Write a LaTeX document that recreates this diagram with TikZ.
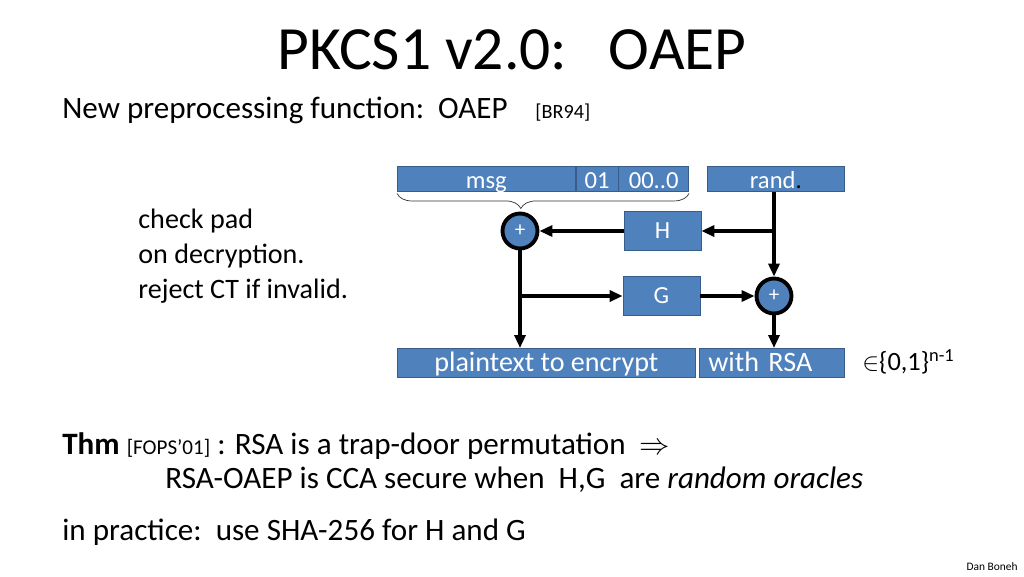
\documentclass[tikz,border=0pt]{standalone}
\usepackage{fontspec}
\setmainfont{Carlito}
\usetikzlibrary{positioning,decorations.pathreplacing,arrows.meta}
\definecolor{boxblue}{HTML}{4F81BD}
\definecolor{boxline}{HTML}{385D8A}

\begin{document}
\begin{tikzpicture}[
  x = 0.02cm, y = -0.02cm,
  field/.style  = {rectangle, draw=boxline, fill=boxblue, text=white, minimum height=0.5cm , inner sep=0pt, text height=0.38cm, text depth=0pt, font=\fontsize{14}{15}\selectfont},
  func/.style   = {rectangle, draw=boxline, fill=boxblue, text=white, minimum width=1.54cm, minimum height=0.78cm, inner sep=0pt, font=\fontsize{14}{15}\selectfont},
  xorop/.style  = {circle, draw=black, line width=2.2pt, fill=boxblue, text=white, minimum size=0.7cm, inner sep=0pt, font=\fontsize{12}{13}\selectfont},
  outbox/.style = {rectangle, draw=boxline, fill=boxblue, text=white, minimum height=0.58cm, inner sep=0pt, text height=0.34cm, text depth=0pt, font=\fontsize{16}{17}\selectfont},
  body/.style   = {anchor=base west, inner sep=0pt, font=\fontsize{17.7}{21}\selectfont},
  cite/.style   = {anchor=base west, inner sep=0pt, font=\fontsize{11.5}{12}\selectfont},
  wire/.style   = {line width=2pt},
  flow/.style   = {wire, -{Triangle[length=0.26cm, width=0.22cm]}},
  ]
  \useasboundingbox (0,0) rectangle (1024,576);
  % title and header
  \node[anchor=base, inner sep=0pt, font=\fontsize{35}{40}\selectfont] (title) at (512,69) {PKCS1 v2.0:\ \ \ OAEP};
  \node[body] (intro) at (62,118) {New preprocessing function:\ \ OAEP};
  \node[cite] (br) at (535,118) {[BR94]};
  % input fields
  \node[field, minimum width=3.56cm, anchor=north west] (msg) at (397,166) {msg};
  \node[field, minimum width=0.84cm, right=0pt of msg] (one) {01};
  \node[field, minimum width=1.4cm, right=0pt of one] (zeros) {00..0};
  \node[field, minimum width=2.74cm, anchor=north west] (rand) at (707,166) {rand\textcolor{black}{.}};
  % hash boxes and xors
  \node[xorop] (xa) at (520,231) {+};
  \node[func] (H) at (662.5,231) {H};
  \node[func] (G) at (661.5,296) {G};
  \node[xorop] (xb) at (774,296) {+};
  % output
  \node[outbox, minimum width=5.96cm, anchor=north west] (plain) at (397,348) {plaintext to encrypt};
  \node[outbox, text width=2.54cm, inner xsep=0.18cm, align=left, anchor=north west] (rsa) at (699,348) {with RSA};
  \node[anchor=west, inner sep=0pt, font=\fontsize{15}{16}\selectfont] (range) at (862,362) {$\in$\{0,1\}\textsuperscript{n-1}};
  % brace over the padded message
  \draw[decorate, decoration={brace, mirror, amplitude=0.3cm, aspect=0.424}, thin, black!80] ([yshift=-1pt]msg.south west) -- ([yshift=-1pt]zeros.south east);
  % connectors
  \coordinate (rb) at (xb.north |- rand.south);
  \coordinate (ra) at (xb.north |- H.east);
  \coordinate (pa) at (xa.south |- G.west);
  \draw[wire] (rb) -- (ra);
  \draw[flow] (ra) -- (xb.north);
  \draw[flow] (ra) -- (H.east);
  \draw[flow] (H.west) -- (xa.east);
  \draw[wire] (xa.south) -- (pa);
  \draw[flow] (pa) -- (xa.south |- plain.north);
  \draw[flow] (pa) -- (G.west);
  \draw[flow] (G.east) -- (xb.west);
  \draw[flow] (xb.south) -- (xb.south |- rsa.north);
  % side note
  \node[anchor=base west, align=left, inner sep=0pt, font=\fontsize{16}{19.8}\selectfont] (note) at (138,298) {check pad\\on decryption.\\reject CT if invalid.};
  % theorem
  \node[body] (thm) at (62,454) {\textbf{Thm} {\fontsize{12}{13}\selectfont[FOPS’01]} : RSA is a trap-door permutation\ \ $\Rightarrow$};
  \node[body] (thm2) at (165,488) {RSA-OAEP is CCA secure when\ \ H,G\ \ are \textit{random oracles}};
  \node[body] (practice) at (62,540) {in practice:\ \ use SHA-256 for H and G};
  \node[anchor=base east, inner sep=0pt, font=\fontsize{6.5}{8}\selectfont] (author) at (1018,570) {Dan Boneh};
\end{tikzpicture}
\end{document}
